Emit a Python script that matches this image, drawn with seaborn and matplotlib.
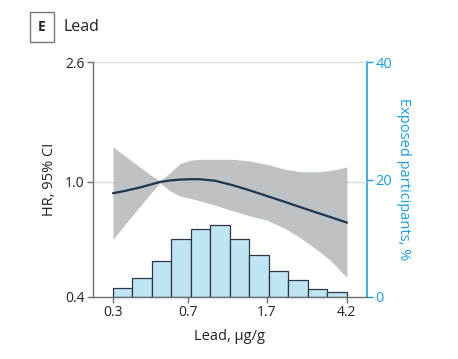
import numpy as np
import matplotlib
matplotlib.use("Agg")
import matplotlib.pyplot as plt
import seaborn as sns
from matplotlib.ticker import FixedLocator, NullLocator, FixedFormatter

# data
lead = [0.300, 0.343, 0.407, 0.455, 0.510, 0.571, 0.639, 0.715, 0.800, 0.948,
        1.161, 1.406, 1.704, 2.087, 2.472, 2.927, 3.467, 4.200]
hr = [0.914, 0.931, 0.957, 0.978, 1.000, 1.012, 1.019, 1.022, 1.022, 1.010,
      0.974, 0.935, 0.894, 0.853, 0.819, 0.787, 0.757, 0.723]
hr_upper = [1.322, 1.231, 1.126, 1.061, 1.008, 1.077, 1.157, 1.189, 1.198, 1.198,
            1.198, 1.182, 1.151, 1.107, 1.086, 1.083, 1.094, 1.127]
hr_lower = [0.633, 0.712, 0.823, 0.907, 0.992, 0.931, 0.894, 0.878, 0.860, 0.831,
            0.794, 0.763, 0.737, 0.691, 0.642, 0.590, 0.537, 0.467]

bin_lo, bin_hi, n_bins = 0.3, 4.2, 12
exposed_pct = [1.5, 3.2, 6.1, 9.9, 11.6, 12.2, 9.9, 7.2, 4.4, 2.8, 1.4, 0.8]

x_ticks = [0.3, 0.7, 1.7, 4.2]
y_ticks = [0.4, 1.0, 2.6]
y2_ticks = [0, 20, 40]

sns.set_style("white")
plt.rcParams["font.family"] = ["Open Sans", "DejaVu Sans"]

BLUE = "#1a9ee0"
GRAY = "#6e6e6e"

fig = plt.figure(figsize=(4.58, 3.59), dpi=100)
ax = fig.add_axes([0.203, 0.173, 0.598, 0.654])
ax2 = ax.twinx()

# histogram on the right axis
edges = np.geomspace(bin_lo, bin_hi, n_bins + 1)
ax2.bar(edges[:-1], exposed_pct, width=np.diff(edges), align="edge",
        color="#bfe4f4", edgecolor="#2a3844", linewidth=0.9, zorder=1)
ax2.set_ylim(0, 40)

# HR curve and CI on the left axis, drawn above the histogram
ax.set_zorder(ax2.get_zorder() + 1)
ax.patch.set_visible(False)
ax.fill_between(lead, hr_lower, hr_upper, color="#b4b8bb", alpha=0.85, lw=0, zorder=2)
sns.lineplot(x=lead, y=hr, ax=ax, color="#1d364c", lw=1.6, zorder=3)

ax.set_xscale("log")
ax.set_yscale("log")
ax.set_xlim(0.2394, 5.26)
ax.set_ylim(0.4, 2.6)
ax.xaxis.set_major_locator(FixedLocator(x_ticks))
ax.xaxis.set_major_formatter(FixedFormatter([str(t) for t in x_ticks]))
ax.xaxis.set_minor_locator(NullLocator())
ax.yaxis.set_major_locator(FixedLocator(y_ticks))
ax.yaxis.set_major_formatter(FixedFormatter([f"{t:.1f}" for t in y_ticks]))
ax.yaxis.set_minor_locator(NullLocator())

for t in y_ticks[1:]:
    ax.axhline(t, color="#dcdcdc", lw=1, zorder=0)

ax.tick_params(axis="both", which="major", direction="out", length=4, width=1,
               color=GRAY, labelsize=10, labelcolor="#222222", pad=2)
ax.tick_params(axis="x", bottom=True)
ax.tick_params(axis="y", left=True)
for s in ["top", "right"]:
    ax.spines[s].set_visible(False)
for s in ["left", "bottom"]:
    ax.spines[s].set_color(GRAY)
    ax.spines[s].set_linewidth(1)

ax2.set_yticks(y2_ticks)
ax2.tick_params(axis="y", right=True, direction="out", length=4, width=1,
                color=BLUE, labelcolor=BLUE, labelsize=10.5, pad=2)
for s in ["top", "left", "bottom"]:
    ax2.spines[s].set_visible(False)
ax2.spines["right"].set_color(BLUE)
ax2.spines["right"].set_linewidth(1.2)

ax.set_xlabel("Lead, µg/g", fontsize=10.5, color="#222222", labelpad=6)
ax.set_ylabel("HR, 95% CI", fontsize=10.5, color="#222222", labelpad=6)
ax2.set_ylabel("Exposed participants, %", fontsize=10.5, color=BLUE,
               rotation=270, labelpad=14)

# panel label
fig.text(0.0917, 0.925, "E", fontsize=10, fontweight="bold", ha="center", va="center",
         bbox=dict(boxstyle="square,pad=0.55", fc="white", ec="#777777", lw=1))
fig.text(0.138, 0.925, "Lead", fontsize=11.5, ha="left", va="center", color="#222222")

fig.savefig("out.png", dpi=100)
